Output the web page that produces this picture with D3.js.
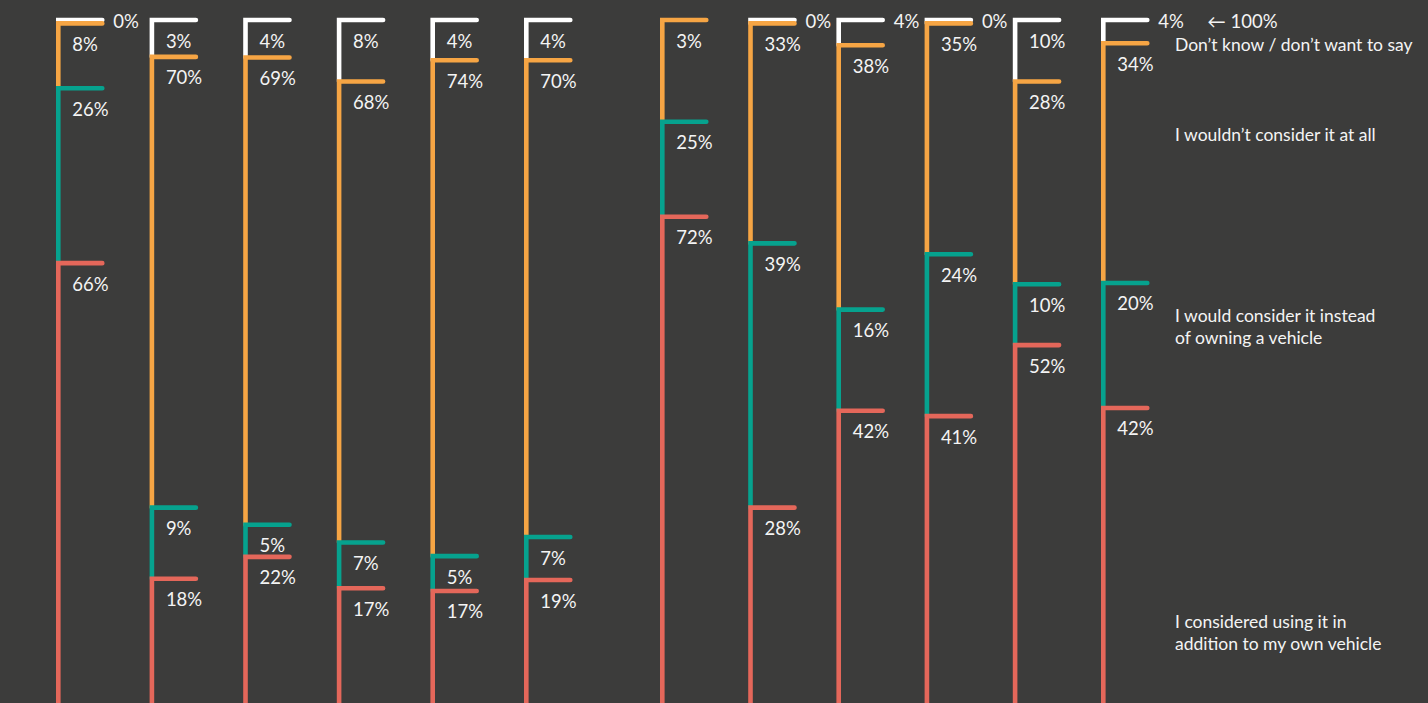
<!DOCTYPE html>
<html>
<head>
<meta charset="utf-8">
<script src="https://cdn.jsdelivr.net/npm/d3@7"></script>
<style>
  html, body { margin: 0; padding: 0; background: #3c3c3b; overflow: hidden; }
  text { font-family: Lato, "Open Sans", sans-serif; fill: #f4f4f4; font-weight: 400; }
</style>
</head>
<body>
<div id="chart"></div>
<script>
// column ids, two groups of six
var groupA = ["a1", "a2", "a3", "a4", "a5", "a6"];
var groupB = ["b1", "b2", "b3", "b4", "b5", "b6"];

// segment sizes as drawn (share of column height, %), bottom to top
var redValues    = [64.4, 18.2, 21.4, 16.8, 16.4, 18.0, 71.2, 28.6, 42.8, 42.0, 52.4, 43.2];
var tealValues   = [25.6, 10.4, 4.7, 6.7, 5.1, 6.3, 13.9, 38.7, 14.8, 23.7, 8.9, 18.3];
var orangeValues = [9.5, 66.0, 68.4, 67.5, 72.6, 69.8, 14.9, 32.2, 38.7, 33.8, 29.7, 35.1];
var whiteValues  = [0.5, 5.4, 5.5, 9.0, 5.9, 5.9, 0, 0.5, 3.7, 0.5, 9.0, 3.4];

// printed labels
var redLabels    = [66, 18, 22, 17, 17, 19, 72, 28, 42, 41, 52, 42];
var tealLabels   = [26, 9, 5, 7, 5, 7, 25, 39, 16, 24, 10, 20];
var orangeLabels = [8, 70, 69, 68, 74, 70, 3, 33, 38, 35, 28, 34];
var whiteLabels  = [0, 3, 4, 8, 4, 4, null, 0, 4, 0, 10, 4];

var seriesKeys = ["red", "teal", "orange", "white"];
var seriesColors = ["#e4675a", "#06a28e", "#f6a544", "#ffffff"];
var legendLines = [
  ["I considered using it in", "addition to my own vehicle"],
  ["I would consider it instead", "of owning a vehicle"],
  ["I wouldn\u2019t consider it at all"],
  ["Don\u2019t know / don\u2019t want to say"]
];
var topNote = "\u2190 100%";

var width = 1428;
var height = 703;
var tickLen = 44;

var columns = groupA.concat(groupB);
var valuesBySeries = [redValues, tealValues, orangeValues, whiteValues];
var labelsBySeries = [redLabels, tealLabels, orangeLabels, whiteLabels];

var table = columns.map(function(id, i) {
  var row = { id: id };
  seriesKeys.forEach(function(k, s) { row[k] = valuesBySeries[s][i]; });
  return row;
});

var stacked = d3.stack().keys(seriesKeys)(table);

var xA = d3.scalePoint().domain(groupA).range([58.3, 526.3]);
var xB = d3.scalePoint().domain(groupB).range([662.3, 1103.3]);
function xPos(id) { return groupA.indexOf(id) >= 0 ? xA(id) : xB(id); }

var yScale = d3.scaleLinear().domain([0, 100]).range([703, 20]);

var svg = d3.select("#chart").append("svg")
  .attr("width", width)
  .attr("height", height);

svg.append("rect").attr("width", width).attr("height", height).attr("fill", "#3c3c3b");

// draw top series first so lower ones sit on top at the joins
for (var s = seriesKeys.length - 1; s >= 0; s--) {
  var layer = stacked[s];
  var g = svg.append("g");
  layer.forEach(function(d, i) {
    var lbl = labelsBySeries[s][i];
    if (d[1] - d[0] <= 0 && lbl === null) return;
    var x = xPos(d.data.id);
    var yTop = yScale(d[1]);
    var yBot = yScale(d[0]);
    g.append("path")
      .attr("d", "M" + x + "," + yBot + "V" + yTop + "H" + (x + tickLen))
      .attr("fill", "none")
      .attr("stroke", seriesColors[s])
      .attr("stroke-width", 4.6)
      .attr("stroke-linecap", "round")
      .attr("stroke-linejoin", "miter");

    if (lbl === null) return;
    var small = (yBot - yTop) < 30;
    g.append("text")
      .attr("x", small ? x + 55 : x + 14)
      .attr("y", small ? yTop + 8 : yTop + 27.5)
      .attr("font-size", 18.5)
      .text(lbl + "%");
  });
}

// note at the top of the last column
var lastX = xPos(columns[columns.length - 1]);
svg.append("text")
  .attr("x", lastX + 104)
  .attr("y", 28)
  .attr("font-size", 18.5)
  .text(topNote);

// legend, read against the last column
var legendY = [628, 322, 141, 51];
var legend = svg.append("g").attr("transform", "translate(1175,0)");
legendLines.forEach(function(lines, i) {
  var t = legend.append("text")
    .attr("y", legendY[i])
    .attr("font-size", 17.5);
  lines.forEach(function(line, j) {
    t.append("tspan").attr("x", 0).attr("dy", j === 0 ? 0 : 22).text(line);
  });
});
</script>
</body>
</html>
